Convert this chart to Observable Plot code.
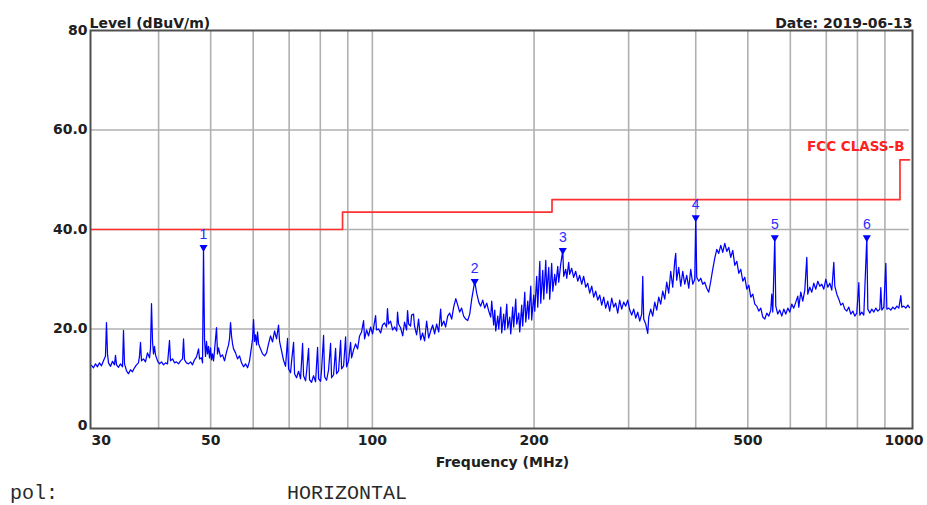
<!DOCTYPE html>
<html><head><meta charset="utf-8">
<script src="https://cdn.jsdelivr.net/npm/d3@7"></script>
<script src="https://cdn.jsdelivr.net/npm/@observablehq/plot@0.6"></script>
<style>
body{margin:0;background:#fff;}
#wrap{position:relative;width:927px;height:505px;background:#fff;}
#pol{position:absolute;left:10px;top:482px;font-family:"Liberation Mono",monospace;font-size:20px;color:#2a2a2a;white-space:pre;line-height:24px;}
#pol .v{position:absolute;left:277px;top:0;}
</style></head><body>
<div id="wrap"><div id="chart"></div><div id="pol"><span>pol:</span><span class="v">HORIZONTAL</span></div></div>
<script>
// Measured trace: [frequency MHz, level dBuV/m]
const trace = [
[30.0,12.7],[30.26,12.2],[30.52,13.0],[30.78,12.4],[31.04,13.2],[31.31,12.6],[31.58,13.6],[31.85,14.5],[31.99,21.3],[32.13,15.0],[32.27,13.2],[32.55,12.5],[32.83,13.5],[33.11,12.8],[33.25,14.7],[33.40,12.8],[33.68,12.3],[33.97,13.0],[34.27,12.4],[34.41,19.7],[34.56,13.0],[34.86,11.6],[35.15,11.0],[35.46,11.8],[35.76,11.4],[36.07,12.2],[36.38,12.8],[36.69,13.2],[36.85,14.5],[37.01,17.3],[37.17,13.6],[37.49,14.0],[37.81,13.4],[38.14,15.2],[38.47,14.2],[38.63,16.0],[38.80,25.1],[38.97,17.5],[39.13,15.0],[39.30,16.5],[39.47,14.8],[39.81,13.6],[40.15,13.0],[40.50,13.4],[40.85,12.8],[41.20,13.2],[41.56,13.0],[41.91,17.7],[42.09,13.6],[42.46,14.0],[42.82,13.2],[43.19,13.4],[43.56,13.0],[43.94,13.6],[44.32,14.0],[44.51,18.0],[44.70,13.8],[45.09,13.2],[45.47,13.0],[45.87,13.4],[46.26,12.8],[46.66,13.8],[47.06,14.4],[47.47,16.0],[47.67,14.0],[48.08,14.2],[48.29,13.2],[48.49,36.4],[48.70,18.0],[48.91,14.5],[49.12,17.5],[49.33,15.0],[49.54,16.5],[49.75,14.2],[49.97,16.2],[50.19,13.8],[50.40,15.0],[50.62,13.6],
[50.83,15.6],[51.27,20.3],[51.49,15.0],[51.71,16.2],[52.16,14.4],[52.61,14.8],[53.06,13.6],[53.52,15.4],[53.98,16.8],[54.21,18.0],[54.45,21.3],[54.68,18.6],[54.92,17.0],[55.15,16.0],[55.63,15.2],[56.11,14.0],[56.59,14.6],[57.08,13.2],[57.57,12.4],[58.07,13.0],[58.57,12.2],[59.07,13.6],[59.32,15.0],[59.58,16.5],[59.84,18.0],[60.09,21.9],[60.35,17.5],[60.61,18.8],[60.87,16.8],[61.13,19.4],[61.40,17.0],[61.92,16.0],[62.46,15.0],[63.00,14.6],[63.54,15.2],[64.08,17.0],[64.63,18.6],[65.19,17.4],[65.75,19.6],[66.32,18.0],[66.89,20.8],[67.18,17.5],[67.76,15.6],[68.34,13.7],
[68.93,12.5],[69.52,18.1],[69.82,12.0],[70.42,11.2],[70.73,13.5],[71.34,17.3],[71.64,11.0],[72.26,10.2],[72.88,11.5],[73.51,10.0],[74.15,17.1],[74.46,10.6],[75.10,9.6],[75.43,11.4],[76.08,16.1],[76.40,9.8],[77.06,9.3],[77.72,10.6],[78.39,9.4],[79.07,16.3],[79.41,10.0],[80.10,9.5],[80.44,11.8],[81.13,18.7],[81.48,10.4],[82.18,9.7],[82.89,11.8],[83.60,17.1],[83.96,10.2],[84.69,10.8],[85.42,16.1],[85.78,11.0],[86.52,11.6],[87.27,17.7],[87.64,12.0],[88.40,12.6],[89.16,18.4],[89.54,12.4],[90.31,13.6],[91.09,17.3],[91.48,14.2],
[92.27,15.8],[93.06,17.0],[93.87,16.0],[94.67,18.6],[95.48,19.4],[96.31,21.7],[96.72,18.0],[97.56,19.8],[98.40,18.6],[99.25,20.4],[100.1,19.0],[101.4,22.7],[101.8,19.8],[102.7,20.0],[103.6,19.2],[104.45,20.8],[105.35,21.2],[106.26,20.4],[106.7,24.1],[107.2,21.0],[108.1,21.6],[109.1,19.8],[110.0,20.4],[111.0,19.6],[111.4,23.4],[111.9,21.0],[112.9,20.2],[113.9,18.6],[114.8,21.4],[115.8,19.8],[116.3,23.7],[116.8,21.0],[117.8,20.6],[118.3,22.8],[119.3,23.0],[119.8,20.6],[120.9,18.8],
[121.9,22.0],[123.0,17.8],[124.0,19.2],[125.1,17.6],[126.2,21.6],[127.3,18.2],[128.4,19.6],[129.5,20.8],[130.6,19.0],[131.7,21.0],[132.9,19.4],[134.0,24.0],[134.6,20.6],[135.8,21.6],[136.9,20.4],[138.1,22.6],[139.3,23.2],[140.5,22.0],[141.7,24.4],[143.0,26.1],[144.2,24.8],[145.4,23.4],[146.6,24.2],[147.9,22.6],[149.2,22.0],[150.5,21.7],[151.8,23.0],[153.1,26.0],[155.1,29.6],
[156.4,27.2],[157.8,25.4],[159.1,24.6],[160.5,25.8],[161.9,24.2],[163.3,25.2],[164.7,23.6],[166.1,22.4],[166.8,25.6],[168.2,20.8],[169.0,23.8],[169.7,19.6],[171.2,22.6],[171.9,20.0],[173.4,24.4],[174.1,19.2],[175.6,23.0],[176.4,19.8],[177.9,25.0],[178.7,20.2],[180.2,22.4],[181.0,19.0],[182.5,24.4],[183.3,20.4],[184.9,26.0],[185.7,21.0],[187.3,23.2],[188.1,19.4],[189.7,24.8],[190.5,20.6],[192.2,27.4],[193.0,21.4],[194.7,25.6],[195.5,22.0],[197.2,28.6],[198.0,21.8],[199.7,26.8],[200.6,23.6],[202.3,30.6],[203.2,24.4],[205.0,33.6],[205.8,25.2],[207.6,31.8],[208.5,26.0],[210.3,33.8],[211.2,27.2],[213.0,32.4],[213.9,26.0],[215.7,33.2],[216.7,27.6],[218.5,31.0],[219.5,28.8],[221.4,32.6],[222.3,29.4],[224.2,33.0],[226.2,35.8],
[227.1,30.6],[229.1,32.0],[230.1,30.2],[232.0,33.4],[233.0,31.0],[235.0,32.2],[237.0,30.4],[239.1,31.6],[241.2,29.6],[243.2,30.8],[245.3,29.0],[247.4,30.6],[249.6,28.4],[251.7,29.2],[253.9,27.2],[256.1,28.6],[258.3,26.4],[260.5,27.6],[262.8,25.8],[265.0,26.8],[267.3,24.8],[269.6,26.4],[271.9,24.2],[274.3,25.6],[276.6,23.6],[279.0,26.2],[281.4,24.4],[283.8,25.2],[286.3,23.2],[288.7,25.8],[291.2,24.0],[293.7,25.4],[296.3,24.6],[298.8,25.8],[301.4,23.8],[304.0,22.8],[306.6,24.0],[309.3,22.2],[311.9,23.4],[314.6,21.6],[317.3,23.0],[318.7,30.6],[320.0,22.0],[322.8,21.0],[325.6,19.1],[327.0,22.4],
[329.8,24.0],[332.6,22.6],[335.5,25.4],[338.4,23.8],[341.3,26.4],[344.2,25.0],[347.2,27.6],[350.2,26.0],[353.2,29.4],[356.2,27.2],[359.3,31.6],[362.4,28.4],[365.5,33.6],[367.1,35.2],[368.6,29.8],[371.8,32.4],[375.1,28.6],[378.3,31.6],[381.6,29.0],[384.8,30.8],[388.2,28.2],[391.5,32.0],[394.9,29.0],[398.3,30.0],[400.0,42.4],[401.7,30.4],[405.2,29.6],[408.7,30.2],[412.2,29.0],[415.7,29.4],[419.3,28.2],[422.9,27.4],[426.6,29.6],[430.2,32.0],[433.9,34.2],[437.7,36.0],[441.4,35.2],[445.3,36.8],[449.1,35.4],[453.0,37.2],[456.9,35.6],[460.8,36.4],[464.8,34.4],[468.8,35.8],[472.9,32.8],[477.0,33.6],[481.1,31.2],[485.2,32.0],[489.4,29.6],[493.6,30.4],[497.9,28.0],[502.2,28.8],[506.4,26.4],[510.8,27.0],[515.2,25.0],[519.6,24.6],[524.1,23.6],[528.6,24.2],[533.2,22.4],[537.8,22.0],[542.4,23.2],[547.1,22.6],[551.8,23.8],[554.1,27.0],[556.5,23.4],[561.3,38.4],
[563.7,24.6],[568.5,23.0],[573.4,23.8],[578.4,22.6],[583.4,24.0],[588.4,23.0],[593.5,24.2],[598.6,23.4],[603.7,25.0],[608.9,24.2],[614.2,25.4],[619.5,26.6],[622.1,24.4],[627.5,27.4],[632.9,25.6],[638.4,27.8],[643.9,34.4],[646.6,27.0],[652.2,28.4],[657.8,27.4],[663.5,29.2],[669.2,28.0],[675.0,29.6],[680.8,28.6],[686.6,29.0],[692.5,28.0],[698.5,30.0],[704.5,28.4],[710.6,29.2],[716.7,27.8],[722.9,33.4],[726.0,28.6],[732.3,27.0],[738.6,26.0],[744.9,24.8],[751.3,25.2],[757.8,24.0],[764.3,23.6],[770.9,24.4],[777.5,23.0],[784.3,23.6],[791.0,22.6],[797.8,23.2],[804.7,29.3],[808.1,22.8],[815.1,23.4],[822.1,22.8],[832.8,38.4],[836.4,24.0],[843.6,23.2],[850.8,24.0],[858.2,23.4],[865.6,24.2],[873.0,23.6],[880.6,24.0],[884.3,28.3],[888.1,23.8],[895.8,24.4],[903.5,33.2],[907.4,24.0],[915.2,24.2],[923.1,23.8],[931.0,24.4],[939.1,24.0],[947.2,24.6],[955.3,24.2],[963.5,26.7],[967.6,24.4],[976.0,24.6],[984.4,24.2],[992.9,24.8],[1000,24.3]
];

// FCC Class B limit (step line)
const limitFreq  = [30, 88, 88, 216, 216, 960, 960, 1000];
const limitLevel = [40, 40, 43.5, 43.5, 46, 46, 54, 54];
const limitName = "FCC CLASS-B";

// Peak markers
const markerFreq   = [48.49, 155.1, 226.2, 400.0, 561.3, 832.8];
const markerLevel  = [36.4, 29.6, 35.8, 42.4, 38.4, 38.4];
const markerLabels = ["1", "2", "3", "4", "5", "6"];

// Axes
const xTicks      = [30, 50, 100, 200, 500, 1000];
const xTickLabels = ["30", "50", "100", "200", "500", "1000"];
const yTicks      = [0, 20, 40, 60, 80];
const yTickLabels = ["0", "20.0", "40.0", "60.0", "80"];
const xGrid = [40, 50, 60, 70, 80, 90, 100, 200, 300, 400, 500, 600, 700, 800, 900];
const yGrid = [20, 40, 60];

const yTitle = "Level (dBuV/m)";
const xTitle = "Frequency (MHz)";
const dateText = "Date: 2019-06-13";

const limit = limitFreq.map((f, i) => ({f, v: limitLevel[i]}));
const markers = markerFreq.map((f, i) => ({f, v: markerLevel[i], label: markerLabels[i]}));
const xt = xTicks.map((t, i) => ({t, label: xTickLabels[i], i}));
const yt = yTicks.map((t, i) => ({t, label: yTickLabels[i], i}));
const limitEnd = [limit[limit.length - 1]];
const lastX = xTicks.length - 1;

const font = "'DejaVu Sans', sans-serif";
const ink = "#202020";
const tickStyle = {fontWeight: "bold", fontSize: 14, fill: ink};

const chart = Plot.plot({
  width: 927,
  height: 475,
  marginLeft: 91,
  marginRight: 18,
  marginTop: 30,
  marginBottom: 47,
  x: {type: "log", domain: [30, 1000], axis: null},
  y: {domain: [0, 80], axis: null},
  style: {fontFamily: font, background: "#fff", overflow: "visible"},
  marks: [
    Plot.ruleX(xGrid, {x: d => d, stroke: "#b0b0b0", strokeWidth: 1.6}),
    Plot.ruleY(yGrid, {y: d => d, stroke: "#b0b0b0", strokeWidth: 1.6}),
    Plot.line(limit, {x: "f", y: "v", stroke: "#ff3030", strokeWidth: 1.7}),
    Plot.line(trace, {x: d => d[0], y: d => d[1], stroke: "#0000ff", strokeWidth: 1.25}),
    Plot.dot(markers, {x: "f", y: "v", symbol: "triangle", rotate: 180, r: 3, fill: "#0000ff", stroke: "none"}),
    Plot.text(markers, {x: "f", y: "v", text: "label", dy: -13, fill: "#2a2aff", fontSize: 14, fontFamily: "'Liberation Sans', sans-serif"}),
    Plot.text(limitEnd, {x: "f", y: "v", text: () => limitName, dy: -13, dx: -5, textAnchor: "end", fill: "#ff2020", fontWeight: "bold", fontSize: 13.5}),
    Plot.frame({stroke: "#505050", strokeWidth: 2, insetRight: -3, insetLeft: -1}),
    // x tick labels
    Plot.text(xt, {filter: d => d.i === 0, x: "t", text: "label", frameAnchor: "bottom", dy: 16, textAnchor: "start", ...tickStyle}),
    Plot.text(xt, {filter: d => d.i > 0 && d.i < lastX, x: "t", text: "label", frameAnchor: "bottom", dy: 16, ...tickStyle}),
    Plot.text(xt, {filter: d => d.i === lastX, x: "t", text: "label", frameAnchor: "bottom", dy: 16, dx: 14, textAnchor: "end", ...tickStyle}),
    // y tick labels
    Plot.text(yt, {filter: d => d.i === 0, y: "t", text: "label", frameAnchor: "left", dx: -4, dy: -3, textAnchor: "end", ...tickStyle}),
    Plot.text(yt, {filter: d => d.i > 0, y: "t", text: "label", frameAnchor: "left", dx: -4, textAnchor: "end", ...tickStyle}),
    // titles
    Plot.text([yTitle], {text: d => d, frameAnchor: "top-left", dy: -12, dx: -2, textAnchor: "start", ...tickStyle}),
    Plot.text([dateText], {text: d => d, frameAnchor: "top-right", dy: -12, dx: 3, textAnchor: "end", ...tickStyle}),
    Plot.text([xTitle], {text: d => d, frameAnchor: "bottom", dy: 38, dx: 2, ...tickStyle})
  ]
});
document.getElementById("chart").appendChild(chart);
</script>
</body></html>
